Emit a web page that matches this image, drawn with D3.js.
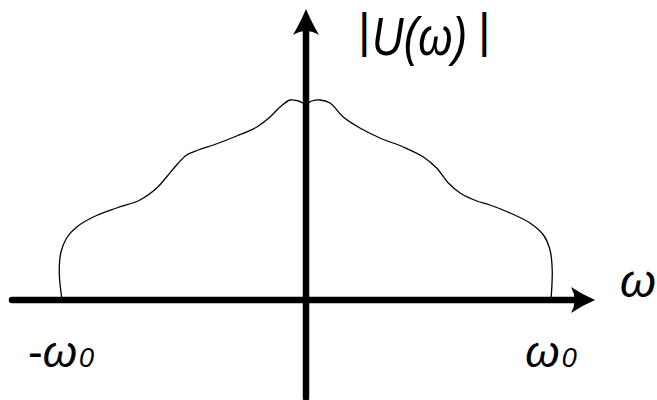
<!DOCTYPE html>
<html>
<head>
<meta charset="utf-8">
<script src="https://cdn.jsdelivr.net/npm/d3@7"></script>
<style>
  html, body { margin: 0; padding: 0; background: #fff; }
  svg { display: block; }
  text { font-family: "Liberation Sans", Arial, sans-serif; fill: #000; }
</style>
</head>
<body>
<svg id="chart" width="657" height="400"></svg>
<script>
// Spectrum magnitude |U(ω)|, ω in units of ω0 (band-limited to ±ω0)
const omega = [
  -0.996, -1.007, -1.001, -0.977, -0.936, -0.868, -0.773, -0.678, -0.609, -0.569,
  -0.528, -0.487, -0.440, -0.378, -0.283, -0.201, -0.147, -0.106, -0.065, -0.031,
  0.000, 0.023, 0.057, 0.098, 0.152, 0.220, 0.302, 0.397, 0.479, 0.533,
  0.581, 0.629, 0.697, 0.751, 0.833, 0.914, 0.969, 0.996, 1.005, 1.000
];
const magnitude = [
  0.000, 0.135, 0.235, 0.310, 0.365, 0.415, 0.460, 0.500, 0.560, 0.615,
  0.675, 0.725, 0.750, 0.775, 0.820, 0.865, 0.915, 0.965, 1.000, 0.995,
  0.980, 0.995, 1.000, 0.985, 0.915, 0.860, 0.810, 0.765, 0.715, 0.660,
  0.585, 0.535, 0.495, 0.475, 0.435, 0.385, 0.325, 0.250, 0.150, 0.000
];
const tickValues = [-1, 1];
const tickLabels = ["-ω", "ω"];   // each followed by a small "0"
const yTitle = "U(ω)";
const xTitle = "ω";

const svg = d3.select("#chart");

const x = d3.scaleLinear().domain([-1, 1]).range([61, 551]);
const y = d3.scaleLinear().domain([0, 1]).range([300, 100]);

// axis extents in data units
const xMin = -1.2, xMax = 1.18;
const yMin = -0.49, yMax = 1.455;
const axisWidth = 6.5;

// spectrum curve
const pts = omega.map((w, i) => [w, magnitude[i]]);
svg.append("path")
  .datum(pts)
  .attr("fill", "none")
  .attr("stroke", "#000")
  .attr("stroke-width", 1.3)
  .attr("d", d3.line()
    .x(d => x(d[0]))
    .y(d => y(d[1]))
    .curve(d3.curveCatmullRom.alpha(0.5)));

// horizontal (ω) axis with arrow
const x0 = x(xMin), x1 = x(xMax), yz = y(0);
svg.append("line")
  .attr("x1", x0).attr("y1", yz)
  .attr("x2", x1 - 14).attr("y2", yz)
  .attr("stroke", "#000").attr("stroke-width", axisWidth)
  .attr("stroke-linecap", "round");
svg.append("path")
  .attr("fill", "#000")
  .attr("d", `M${x1},${yz}
    Q${x1 - 12},${yz - 5} ${x1 - 24},${yz - 13}
    Q${x1 - 17},${yz} ${x1 - 24},${yz + 13}
    Q${x1 - 12},${yz + 5} ${x1},${yz} Z`);

// vertical (|U|) axis with arrow
const xc = x(0), yt = y(yMax), yb = y(yMin);
svg.append("line")
  .attr("x1", xc).attr("y1", yb)
  .attr("x2", xc).attr("y2", yt + 14)
  .attr("stroke", "#000").attr("stroke-width", axisWidth)
  .attr("stroke-linecap", "round");
svg.append("path")
  .attr("fill", "#000")
  .attr("d", `M${xc},${yt}
    Q${xc - 5},${yt + 12} ${xc - 13},${yt + 26}
    Q${xc},${yt + 18} ${xc + 13},${yt + 26}
    Q${xc + 5},${yt + 12} ${xc},${yt} Z`);

// axis title |U(ω)|: magnitude bars plus a slightly condensed italic name
const bars = svg.append("g").attr("font-size", 48);
bars.append("text").attr("x", 358).attr("y", 47).text("|");
bars.append("text").attr("x", 478).attr("y", 47).text("|");
const name = svg.append("text")
  .attr("font-size", 54).attr("font-style", "italic")
  .text(yTitle);
const natural = name.node().getComputedTextLength();
name.attr("transform", `translate(372,55) scale(${95 / natural},1)`);

svg.append("text")
  .attr("x", 620).attr("y", 297)
  .attr("font-size", 46).attr("font-style", "italic")
  .text(xTitle);

// tick labels at ±ω0
const ticks = svg.selectAll("text.tick")
  .data(tickValues)
  .join("text")
  .attr("class", "tick")
  .attr("x", d => x(d))
  .attr("y", 367)
  .attr("text-anchor", "middle");
ticks.each(function(d, i) {
  const t = d3.select(this);
  const lab = tickLabels[i];
  if (lab.startsWith("-")) {
    t.append("tspan").attr("font-size", 44).text("-");
  }
  t.append("tspan").attr("font-size", 44).attr("font-style", "italic")
    .text(lab.replace("-", ""));
  t.append("tspan").attr("font-size", 27).attr("font-style", "italic")
    .attr("dx", 2).text("0");
});
</script>
</body>
</html>
